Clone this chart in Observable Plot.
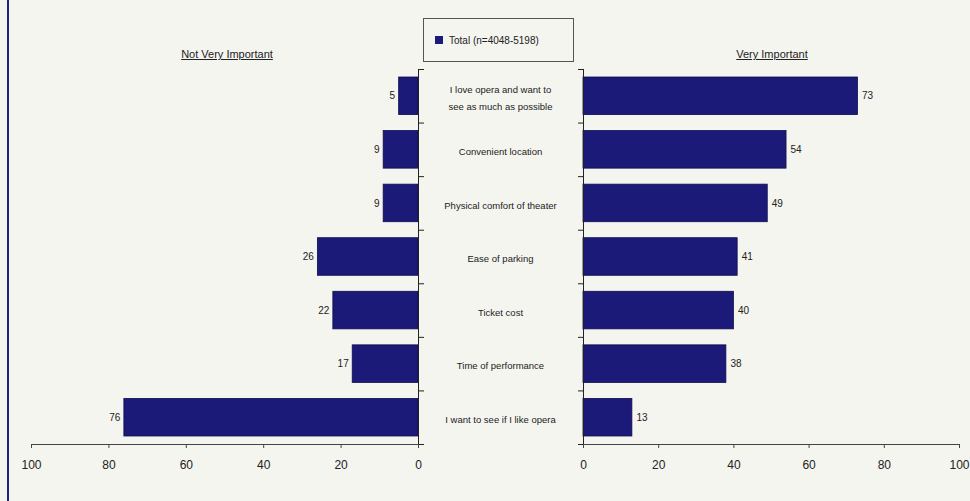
<!DOCTYPE html>
<html>
<head>
<meta charset="utf-8">
<script src="https://cdn.jsdelivr.net/npm/d3@7"></script>
<script src="https://cdn.jsdelivr.net/npm/@observablehq/plot@0.6"></script>
<style>
  html, body { margin: 0; padding: 0; background: #f5f5f0; }
  #wrap { position: relative; width: 970px; height: 501px; background: #f5f5f0; overflow: hidden; font-family: "Liberation Sans", Arial, sans-serif; }
  #wrap svg { position: absolute; top: 0; overflow: visible; background: transparent; }
  .border { position: absolute; left: 7px; top: 0; width: 2px; height: 501px; background: #1f237a; }
  .hdr { position: absolute; top: 48px; font-size: 11px; color: #222; text-decoration: underline; transform: translateX(-50%); white-space: nowrap; }
  .legend { position: absolute; left: 423px; top: 18px; width: 149px; height: 42px; border: 1px solid #555; box-sizing: content-box; display: flex; align-items: center; font-size: 10px; color: #222; }
  .legend .sw { width: 8px; height: 8px; background: #1b1a78; margin-left: 11px; margin-right: 6px; }
</style>
</head>
<body>
<div id="wrap">
  <div class="border"></div>
  <div class="hdr" style="left:227px">Not Very Important</div>
  <div class="hdr" style="left:772px">Very Important</div>
  <div class="legend"><div class="sw"></div><span>Total (n=4048-5198)</span></div>
</div>
<script>
const categories = [
  "I love opera and want to\nsee as much as possible",
  "Convenient location",
  "Physical comfort of theater",
  "Ease of parking",
  "Ticket cost",
  "Time of performance",
  "I want to see if I like opera"
];
const notVeryImportant = [5, 9, 9, 26, 22, 17, 76];
const veryImportant = [73, 54, 49, 41, 40, 38, 13];
const xTicks = [0, 20, 40, 60, 80, 100];

const rows = categories.map((c, i) => ({i, c, left: notVeryImportant[i], right: veryImportant[i]}));
const navy = "#1b1a78";
const n = categories.length;

const common = {
  height: 501,
  marginTop: 69,
  marginBottom: 57,
  style: {background: "transparent", fontFamily: "Liberation Sans, Arial, sans-serif", color: "#222"},
  y: {domain: [0, n], reverse: true, label: null}
};

const leftPlot = Plot.plot({
  ...common,
  width: 440,
  marginLeft: 31,
  marginRight: 22,
  x: {domain: [0, 100], reverse: true, label: null},
  marks: [
    Plot.rectX(rows, {x1: 0, x2: "left", y1: "i", y2: d => d.i + 1, insetTop: 8, insetBottom: 8, fill: navy, stroke: "#0e0e50", strokeWidth: 0.8}),
    Plot.text(rows, {x: "left", y: d => d.i + 0.5, text: d => String(d.left), textAnchor: "end", dx: -4, fontSize: 10, fill: "#222"}),
    Plot.ruleX([0], {y1: 0, y2: n, stroke: "#222"}),
    Plot.axisY({ticks: d3.range(0, n + 1), anchor: "right", tickSize: 5, tickFormat: () => "", label: null, stroke: "#222"}),
    Plot.ruleY([n], {x1: 0, x2: 100, stroke: "#444"}),
    Plot.axisX({ticks: xTicks, tickSize: 4, tickPadding: 12, fontSize: 12, label: null, stroke: "#444", fill: "#222"})
  ]
});
leftPlot.style.left = "0px";

const rightPlot = Plot.plot({
  ...common,
  width: 530,
  marginLeft: 143,
  marginRight: 11,
  x: {domain: [0, 100], label: null},
  marks: [
    Plot.rectX(rows, {x1: 0, x2: "right", y1: "i", y2: d => d.i + 1, insetTop: 8, insetBottom: 8, fill: navy, stroke: "#0e0e50", strokeWidth: 0.8}),
    Plot.text(rows, {x: "right", y: d => d.i + 0.5, text: d => String(d.right), textAnchor: "start", dx: 4, fontSize: 10, fill: "#222"}),
    Plot.text(rows, {x: 0, y: d => d.i + 0.5, text: "c", textAnchor: "middle", dx: -83, fontSize: 9.5, lineHeight: 1.75, fill: "#222"}),
    Plot.ruleX([0], {y1: 0, y2: n, stroke: "#222"}),
    Plot.axisY({ticks: d3.range(0, n + 1), anchor: "left", tickSize: 5, tickFormat: () => "", label: null, stroke: "#222"}),
    Plot.ruleY([n], {x1: 0, x2: 100, stroke: "#444"}),
    Plot.axisX({ticks: xTicks, tickSize: 4, tickPadding: 12, fontSize: 12, label: null, stroke: "#444", fill: "#222"})
  ]
});
rightPlot.style.left = "440px";

const wrap = document.getElementById("wrap");
wrap.appendChild(leftPlot);
wrap.appendChild(rightPlot);
</script>
</body>
</html>
